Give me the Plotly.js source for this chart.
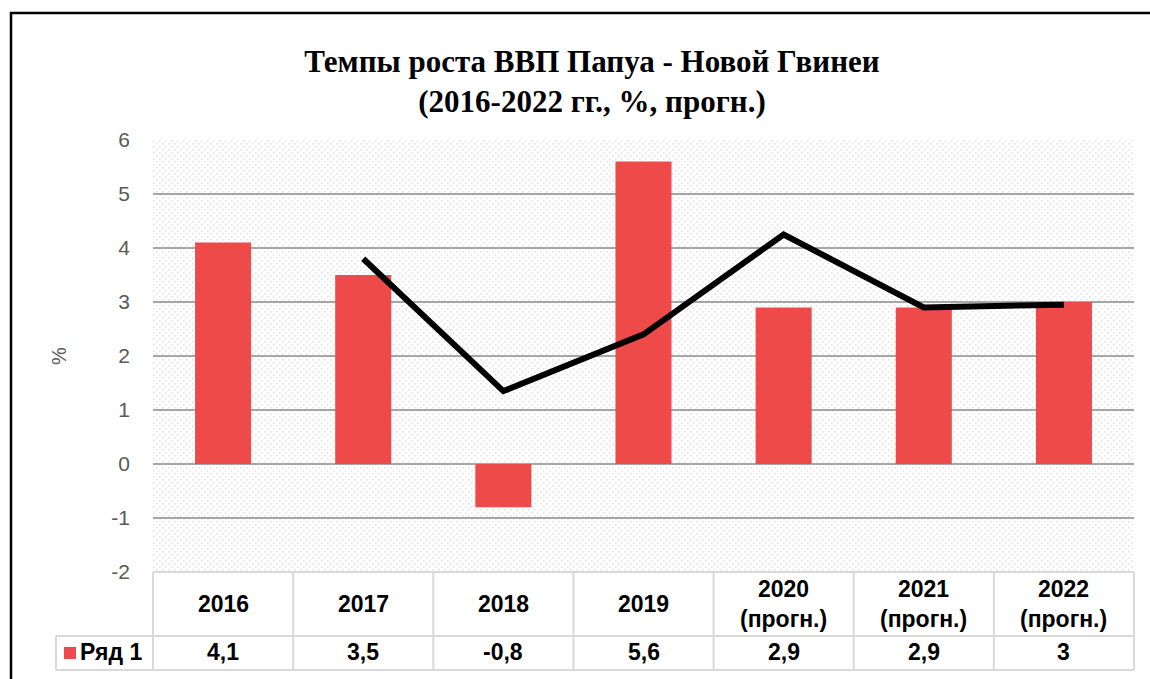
<!DOCTYPE html>
<html>
<head>
<meta charset="utf-8">
<script src="https://cdn.plot.ly/plotly-3.0.1.min.js"></script>
<style>html,body{margin:0;padding:0;background:#fff;}#chart{width:1150px;height:679px;}</style>
</head>
<body>
<div id="chart"></div>
<script>
// ---- data ----
const categories = ["2016", "2017", "2018", "2019", "2020 (прогн.)", "2021 (прогн.)", "2022 (прогн.)"];
const headerLabels = ["2016", "2017", "2018", "2019", "2020<br>(прогн.)", "2021<br>(прогн.)", "2022<br>(прогн.)"];
const seriesName = "Ряд 1";
const gdpGrowth = [4.1, 3.5, -0.8, 5.6, 2.9, 2.9, 3];
const valueLabels = ["4,1", "3,5", "-0,8", "5,6", "2,9", "2,9", "3"];
const trendCategories = ["2017", "2018", "2019", "2020 (прогн.)", "2021 (прогн.)", "2022 (прогн.)"];
const trendValues = [3.8, 1.35, 2.4, 4.25, 2.9, 2.95];
const yTickVals = [-2, -1, 0, 1, 2, 3, 4, 5, 6];
const yTickText = ["-2", "-1", "0", "1", "2", "3", "4", "5", "6"];

const W = 1150, H = 679;
const L = 153, R = 16, T = 140, B = 107;
const pw = W - L - R, ph = H - T - B;
const py = px => -(px - (H - B)) / ph;   // pixel y -> paper y
const pxX = px => (px - L) / pw;          // pixel x -> paper x

const red = "#EE4A4A";
const gridCol = "#A6A6A6";
const cellCol = "#D9D9D9";
const tableFont = {family: "Liberation Sans, Arial", size: 23, color: "#000", weight: "bold"};

const dotSvg = "data:image/svg+xml;utf8," + encodeURIComponent(
  '<svg xmlns="http://www.w3.org/2000/svg" width="981" height="432">' +
  '<defs><pattern id="p" width="6" height="6" patternUnits="userSpaceOnUse">' +
  '<rect x="0" y="0" width="1.6" height="1.6" fill="#e2e2e2"/>' +
  '<rect x="3" y="3" width="1.6" height="1.6" fill="#e2e2e2"/></pattern></defs>' +
  '<rect width="981" height="432" fill="url(#p)"/></svg>');

const traces = [
  {
    type: "bar", x: categories, y: gdpGrowth, name: seriesName,
    marker: {color: red}, hoverinfo: "x+y"
  },
  {
    type: "scatter", mode: "lines", x: trendCategories, y: trendValues,
    line: {color: "#000", width: 6, shape: "linear"}, hoverinfo: "skip", showlegend: false
  }
];

const shapes = [];
const annotations = [];

// table geometry (pixels)
const rowTop = H - B, rowMid = 636, rowBot = 670, leftCol = 56;
const yTop = py(rowTop), yMid = py(rowMid), yBot = py(rowBot);
const line = (x0, y0, x1, y1, col, w) => shapes.push({
  type: "line", xref: "paper", yref: "paper", x0, y0, x1, y1,
  line: {color: col, width: w}, layer: "above"
});
line(0, yTop, 1, yTop, cellCol, 2);
line(pxX(leftCol), yMid, 1, yMid, cellCol, 2);
line(pxX(leftCol), yBot, 1, yBot, cellCol, 2);
for (let k = 0; k <= categories.length; k++) {
  const xp = k / categories.length;
  line(xp, yTop, xp, yBot, cellCol, 2);
}
line(pxX(leftCol), yMid, pxX(leftCol), yBot, cellCol, 2);

// header and value cells (x given as category index on the category axis)
categories.forEach((c, i) => {
  annotations.push({
    xref: "x", yref: "paper", x: i, y: (yTop + yMid) / 2, text: headerLabels[i],
    showarrow: false, font: tableFont, xanchor: "center", yanchor: "middle"
  });
  annotations.push({
    xref: "x", yref: "paper", x: i, y: (yMid + yBot) / 2 + 0.002, text: valueLabels[i],
    showarrow: false, font: tableFont, xanchor: "center", yanchor: "middle"
  });
});
// legend key in table
shapes.push({type: "rect", xref: "paper", yref: "paper",
  x0: pxX(64), x1: pxX(76), y0: py(659), y1: py(647),
  fillcolor: red, line: {width: 0}, layer: "above"});
annotations.push({
  xref: "paper", yref: "paper", x: pxX(78), y: (yMid + yBot) / 2 + 0.002, text: seriesName,
  showarrow: false, font: tableFont, xanchor: "left", yanchor: "middle"
});

// outer frame
shapes.push({type: "rect", xref: "paper", yref: "paper",
  x0: pxX(11), x1: pxX(1160), y0: py(13), y1: py(700),
  line: {color: "#000", width: 2.5}, fillcolor: "rgba(0,0,0,0)", layer: "above"});

const layout = {
  width: W, height: H,
  margin: {l: L, r: R, t: T, b: B},
  paper_bgcolor: "#fff", plot_bgcolor: "#fff",
  title: {
    text: "<b>Темпы роста ВВП Папуа - Новой Гвинеи<br>(2016-2022 гг., %, прогн.)</b>",
    font: {family: "Liberation Serif, Times New Roman", size: 31, color: "#000"},
    x: 0.5 + (592 - W / 2) / W, xanchor: "center", y: 1 - 72 / H, yanchor: "middle"
  },
  showlegend: false,
  bargap: 0.6,
  xaxis: {
    type: "category", categoryorder: "array", categoryarray: categories,
    range: [-0.5, 6.5], showticklabels: false, showgrid: false, zeroline: false,
    showline: false, ticks: ""
  },
  yaxis: {
    range: [-2, 6], tickmode: "array", tickvals: yTickVals, ticktext: yTickText,
    showgrid: true, gridcolor: gridCol, gridwidth: 2,
    zeroline: true, zerolinecolor: gridCol, zerolinewidth: 2,
    showline: false, ticks: "", ticklabelstandoff: 22,
    tickfont: {family: "Liberation Sans, Arial", size: 21, color: "#595959"},
    title: {text: "%", font: {family: "Liberation Sans, Arial", size: 20, color: "#595959"}, standoff: 39}
  },
  images: [{
    source: dotSvg, xref: "paper", yref: "paper", x: 0, y: 1, sizex: 1, sizey: 1,
    xanchor: "left", yanchor: "top", sizing: "stretch", layer: "below"
  }],
  shapes, annotations
};

Plotly.newPlot("chart", traces, layout, {displayModeBar: false, staticPlot: true});
</script>
</body>
</html>
